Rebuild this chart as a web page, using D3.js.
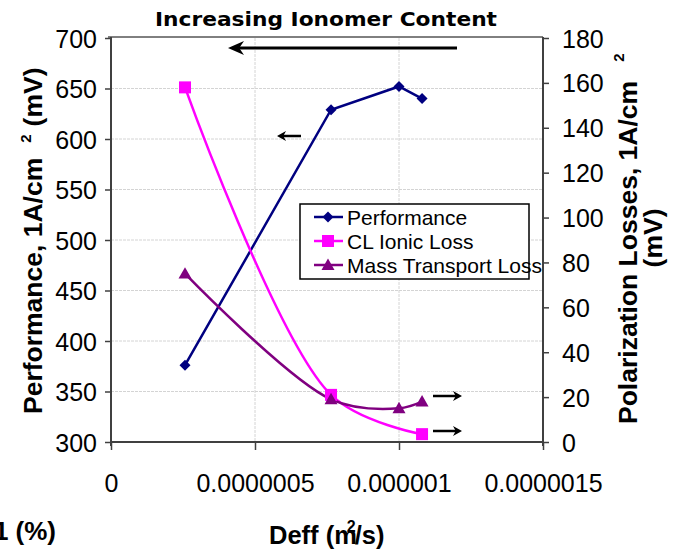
<!DOCTYPE html>
<html>
<head>
<meta charset="utf-8">
<script src="https://cdn.jsdelivr.net/npm/d3@7"></script>
<style>
  html, body { margin: 0; padding: 0; background: #fff; }
  svg { display: block; }
  text { font-family: "Liberation Sans", Arial, sans-serif; fill: #000; }
</style>
</head>
<body>
<svg id="chart" width="681" height="550"></svg>
<script>
// Effective diffusivity (m²/s) at each ionomer loading
const deff = [2.57e-7, 7.64e-7, 1.0e-6, 1.08e-6];
// Cell voltage at 1 A/cm² (mV), left axis
const performance = [376, 629, 652, 640];
// Catalyst-layer ionic loss (mV), right axis — no point measured at 1.0e-6
const clDeff = [2.57e-7, 7.64e-7, 1.08e-6];
const clIonicLoss = [158, 21, 3.5];
// Mass transport loss (mV), right axis
const massTransportLoss = [75, 19, 15, 18];

const xTicks = [0, 5e-7, 1e-6, 1.5e-6];
const xTickLabels = ["0", "0.0000005", "0.000001", "0.0000015"];
const leftTicks = [300, 350, 400, 450, 500, 550, 600, 650, 700];
const rightTicks = [0, 20, 40, 60, 80, 100, 120, 140, 160, 180];

const seriesNames = ["Performance", "CL Ionic Loss", "Mass Transport Loss"];
const seriesColors = ["#000080", "#ff00ff", "#800080"];

const svg = d3.select("#chart");
const plot = { left: 111, right: 543, top: 38, bottom: 442 };

const x = d3.scaleLinear().domain([0, 1.5e-6]).range([plot.left, plot.right]);
const yL = d3.scaleLinear().domain([300, 700]).range([plot.bottom, plot.top]);
const yR = d3.scaleLinear().domain([0, 180]).range([plot.bottom, plot.top]);

// gridlines
const grid = svg.append("g");
grid.selectAll("line.h").data(leftTicks.slice(1, -1)).join("line")
  .attr("x1", plot.left).attr("x2", plot.right)
  .attr("y1", d => yL(d)).attr("y2", d => yL(d))
  .attr("stroke", "#d4d4d4").attr("stroke-width", 1).attr("stroke-dasharray", "3,1");
grid.selectAll("line.v").data(xTicks.slice(1, -1)).join("line")
  .attr("y1", plot.top).attr("y2", plot.bottom)
  .attr("x1", d => x(d)).attr("x2", d => x(d))
  .attr("stroke", "#d4d4d4").attr("stroke-width", 1).attr("stroke-dasharray", "3,1");

// plot border (top)
svg.append("line").attr("x1", plot.left - 3).attr("x2", plot.right)
  .attr("y1", plot.top - 1).attr("y2", plot.top - 1)
  .attr("stroke", "#000").attr("stroke-width", 1);

// axes
const axisColor = "#404040";
const tickFont = 25;
function styleAxis(g) {
  g.select(".domain").remove();
  g.selectAll(".tick line").attr("stroke", axisColor).attr("stroke-width", 1.5);
  g.selectAll(".tick text").style("font-family", '"Liberation Sans", Arial, sans-serif')
    .style("font-size", tickFont + "px").attr("fill", "#000");
}
const gL = svg.append("g").attr("transform", `translate(${plot.left},0)`)
  .call(d3.axisLeft(yL).tickValues(leftTicks).tickSize(6).tickPadding(8));
styleAxis(gL);
gL.selectAll(".tick text").attr("dy", "0.36em");

const gR = svg.append("g").attr("transform", `translate(${plot.right},0)`)
  .call(d3.axisRight(yR).tickValues(rightTicks).tickSize(6).tickPadding(13));
styleAxis(gR);
gR.selectAll(".tick text").attr("dy", "0.36em");

const gX = svg.append("g").attr("transform", `translate(0,${plot.bottom})`)
  .call(d3.axisBottom(x).tickValues(xTicks).tickFormat((d, i) => xTickLabels[i]).tickSize(8).tickPadding(24));
styleAxis(gX);
gX.selectAll(".tick text").attr("dy", "0.71em");

// axis lines
svg.append("line").attr("x1", plot.left).attr("x2", plot.left)
  .attr("y1", plot.top - 1).attr("y2", plot.bottom + 4)
  .attr("stroke", axisColor).attr("stroke-width", 2);
svg.append("line").attr("x1", plot.right).attr("x2", plot.right)
  .attr("y1", plot.top - 1).attr("y2", plot.bottom + 4)
  .attr("stroke", axisColor).attr("stroke-width", 2);
svg.append("line").attr("x1", plot.left).attr("x2", plot.right)
  .attr("y1", plot.bottom).attr("y2", plot.bottom)
  .attr("stroke", axisColor).attr("stroke-width", 2);

// marker shapes
function diamond(r) { return `M0,${-r}L${r},0L0,${r}L${-r},0Z`; }
function square(r) { return `M${-r},${-r}H${r}V${r}H${-r}Z`; }
function triangle(r) { return `M0,${-r}L${r},${r * 0.75}L${-r},${r * 0.75}Z`; }

// Performance (straight segments)
const perfPts = deff.map((d, i) => [x(d), yL(performance[i])]);
svg.append("path").attr("d", d3.line()(perfPts))
  .attr("fill", "none").attr("stroke", seriesColors[0]).attr("stroke-width", 2.5);

// CL Ionic Loss (smoothed)
const clPts = clDeff.map((d, i) => [x(d), yR(clIonicLoss[i])]);
svg.append("path").attr("d", d3.line().curve(d3.curveCatmullRom.alpha(0.5))(clPts))
  .attr("fill", "none").attr("stroke", seriesColors[1]).attr("stroke-width", 2.5);

// Mass Transport Loss (smoothed)
const mtPts = deff.map((d, i) => [x(d), yR(massTransportLoss[i])]);
svg.append("path").attr("d", d3.line().curve(d3.curveCatmullRom.alpha(0.5))(mtPts))
  .attr("fill", "none").attr("stroke", seriesColors[2]).attr("stroke-width", 2.5);

svg.selectAll("path.pm").data(perfPts).join("path")
  .attr("d", diamond(5.5)).attr("transform", d => `translate(${d[0]},${d[1]})`)
  .attr("fill", seriesColors[0]);
svg.selectAll("path.cm").data(clPts).join("path")
  .attr("d", square(6)).attr("transform", d => `translate(${d[0]},${d[1]})`)
  .attr("fill", seriesColors[1]);
svg.selectAll("path.mm").data(mtPts).join("path")
  .attr("d", triangle(6.5)).attr("transform", d => `translate(${d[0]},${d[1]})`)
  .attr("fill", seriesColors[2]);

// arrows
function arrow(x1, y, x2, head, hw, w) {
  const dir = Math.sign(x2 - x1);
  const g = svg.append("g");
  g.append("line").attr("x1", x1).attr("x2", x2 - dir * head * 0.6)
    .attr("y1", y).attr("y2", y).attr("stroke", "#000").attr("stroke-width", w);
  g.append("path")
    .attr("d", `M${x2},${y}L${x2 - dir * head},${y - hw}L${x2 - dir * head * 0.7},${y}L${x2 - dir * head},${y + hw}Z`)
    .attr("fill", "#000");
}
arrow(457, 48, 228, 16, 7, 3);
arrow(301, 136, 277, 9, 5, 2.5);
arrow(433, 396, 462, 9, 5, 2.5);
arrow(433, 431, 462, 9, 5, 2.5);

// title
svg.append("text").attr("x", 326).attr("y", 26).attr("text-anchor", "middle")
  .attr("textLength", 342).attr("lengthAdjust", "spacingAndGlyphs")
  .style("font-family", '"DejaVu Sans", Verdana, sans-serif')
  .style("font-weight", "bold").style("font-size", "19.5px")
  .text("Increasing Ionomer Content");

const titleFont = 26.5;
// left axis title
const lt = svg.append("text")
  .attr("transform", "translate(42,414) rotate(-90)")
  .attr("text-anchor", "start")
  .style("font-weight", "bold").style("font-size", titleFont + "px");
lt.append("tspan").text("Performance, 1A/cm");
lt.append("tspan").attr("dx", 15).attr("dy", -11).style("font-size", "15px").text("2");
lt.append("tspan").attr("dx", 8).attr("dy", 11).text("(mV)");

// right axis title
const rt = svg.append("text")
  .attr("transform", "translate(637,424) rotate(-90)")
  .attr("text-anchor", "start")
  .style("font-weight", "bold").style("font-size", titleFont + "px");
rt.append("tspan").text("Polarization Losses, 1A/cm");
rt.append("tspan").attr("dx", 19).attr("dy", -13).style("font-size", "15px").text("2");
svg.append("text")
  .attr("transform", "translate(662,238) rotate(-90)")
  .attr("text-anchor", "middle")
  .style("font-weight", "bold").style("font-size", titleFont + "px")
  .text("(mV)");

// x axis title
const xt = svg.append("text").attr("x", 269).attr("y", 544).attr("text-anchor", "start")
  .style("font-weight", "bold").style("font-size", "25.5px");
xt.append("tspan").text("Deff (m");
xt.append("tspan").attr("dx", -10).attr("dy", -12).style("font-size", "16px").text("2");
xt.append("tspan").attr("dx", -1).attr("dy", 12).text("/s)");

// secondary category label at lower left
svg.append("text").attr("x", 56).attr("y", 540).attr("text-anchor", "end")
  .style("font-weight", "bold").style("font-size", "26px").text("1 (%)");

// legend
const lg = svg.append("g");
lg.append("rect").attr("x", 300).attr("y", 204).attr("width", 229).attr("height", 75)
  .attr("fill", "#fff").attr("stroke", "#000").attr("stroke-width", 1.5);
const rowY = [217, 241, 265];
const markerFns = [() => diamond(5.5), () => square(6), () => triangle(6.5)];
seriesNames.forEach((name, i) => {
  lg.append("line").attr("x1", 314).attr("x2", 343).attr("y1", rowY[i]).attr("y2", rowY[i])
    .attr("stroke", seriesColors[i]).attr("stroke-width", 2.5);
  lg.append("path").attr("d", markerFns[i]()).attr("transform", `translate(328,${rowY[i]})`)
    .attr("fill", seriesColors[i]);
  lg.append("text").attr("x", 347).attr("y", rowY[i]).attr("dy", "0.36em")
    .style("font-size", "21px").text(name);
});
</script>
</body>
</html>
